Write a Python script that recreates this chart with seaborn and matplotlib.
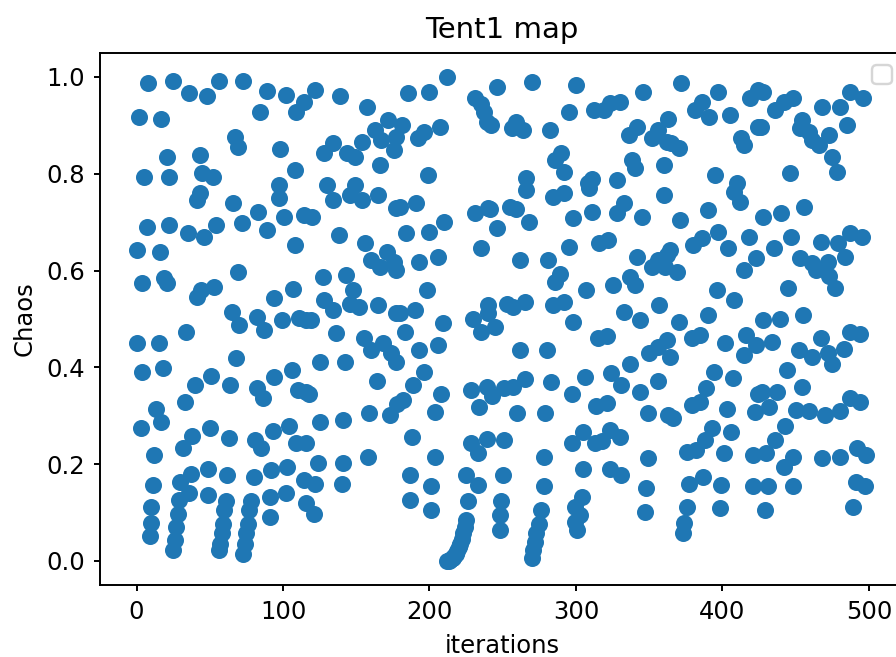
import matplotlib
matplotlib.use("Agg")
import matplotlib.pyplot as plt
import seaborn as sns
import pandas as pd

title = "Tent1 map"
x_label = "iterations"
y_label = "Chaos"

# (iteration, value) pairs
points = [
 (8,0.987),(25,0.992),(36,0.966),(48,0.961),(2,0.918),(17,0.914),(21,0.835),(43,0.839),(5,0.794),(22,0.794),
 (45,0.801),(52,0.794),(43,0.760),(41,0.746),(7,0.691),(22,0.694),(35,0.677),(46,0.670),(54,0.694),(0,0.643),
 (16,0.639),(19,0.584),(21,0.574),(4,0.574),(41,0.546),(44,0.560),(53,0.567),(34,0.474),(0,0.450),(15,0.450),
 (4,0.391),(18,0.398),(33,0.329),(40,0.363),(51,0.383),(13,0.315),(17,0.288),(3,0.274),(32,0.233),(38,0.258),
 (50,0.274),(12,0.219),(11,0.157),(30,0.163),(37,0.180),(49,0.190),(10,0.112),(10,0.078),(9,0.052),(29,0.126),
 (36,0.140),(49,0.136),(28,0.098),(27,0.071),(26,0.044),(25,0.023),
 (56,0.992),(73,0.992),(89,0.972),(102,0.963),(84,0.928),(109,0.928),(114,0.948),(67,0.877),(69,0.856),(98,0.852),
 (108,0.808),(97,0.777),(97,0.749),(66,0.739),(83,0.722),(101,0.711),(114,0.714),(72,0.698),(89,0.684),(108,0.653),
 (69,0.598),(107,0.563),(94,0.543),(65,0.515),(70,0.488),(82,0.505),(87,0.477),(99,0.498),(111,0.502),(116,0.498),
 (68,0.419),(64,0.364),(82,0.357),(86,0.336),(94,0.380),(106,0.394),(110,0.353),(116,0.350),(63,0.254),(81,0.250),
 (85,0.233),(93,0.268),(104,0.278),(109,0.243),(116,0.243),(62,0.178),(80,0.174),(92,0.188),(103,0.195),(114,0.167),
 (61,0.123),(78,0.123),(91,0.133),(102,0.140),(116,0.119),(60,0.105),(59,0.077),(58,0.057),(57,0.036),(56,0.022),
 (77,0.105),(76,0.077),(75,0.057),(74,0.036),(73,0.015),(91,0.091),
 (122,0.973),(139,0.960),(157,0.939),(172,0.911),(163,0.890),(167,0.870),(177,0.877),(176,0.849),(166,0.818),(128,0.842),
 (134,0.863),(144,0.842),(154,0.866),(149,0.835),(130,0.777),(134,0.746),(149,0.777),(154,0.746),(146,0.756),(165,0.756),
 (177,0.729),(120,0.711),(138,0.673),(156,0.656),(160,0.622),(166,0.608),(171,0.639),(176,0.618),(177,0.601),(127,0.587),
 (143,0.591),(128,0.539),(134,0.519),(148,0.560),(152,0.525),(146,0.532),(165,0.529),(177,0.512),(119,0.498),(136,0.471),
 (155,0.460),(160,0.436),(168,0.450),(174,0.429),(177,0.412),(125,0.412),(142,0.412),(164,0.371),(118,0.346),(125,0.288),
 (141,0.292),(159,0.305),(173,0.302),(178,0.325),(124,0.202),(141,0.202),(158,0.215),(122,0.160),(140,0.160),(121,0.098),
 (212,1.000),(185,0.966),(200,0.970),(231,0.956),(235,0.945),(237,0.928),(239,0.908),(242,0.901),(181,0.901),(192,0.873),
 (196,0.887),(207,0.897),(199,0.798),(180,0.732),(191,0.739),(184,0.677),(200,0.680),(210,0.701),(231,0.718),(240,0.729),
 (235,0.646),(193,0.618),(206,0.629),(198,0.560),(180,0.512),(190,0.519),(209,0.491),(183,0.474),(230,0.501),(240,0.512),
 (235,0.474),(193,0.435),(206,0.446),(196,0.391),(189,0.364),(182,0.332),(204,0.308),(208,0.346),(228,0.353),(234,0.319),
 (239,0.360),(188,0.257),(204,0.215),(228,0.243),(233,0.223),(239,0.253),(187,0.178),(201,0.154),(225,0.178),(233,0.157),
 (187,0.126),(201,0.105),(226,0.123),(225,0.085),(224,0.070),(223,0.057),(222,0.046),(221,0.036),(220,0.028),(219,0.021),
 (218,0.015),(217,0.010),(216,0.007),(215,0.004),(214,0.002),(213,0.001),(212,0.000),
 (246,0.980),(270,0.990),(300,0.983),(256,0.894),(259,0.907),(264,0.891),(282,0.891),(295,0.928),(286,0.829),(290,0.842),
 (292,0.804),(266,0.791),(266,0.767),(284,0.753),(292,0.760),(241,0.728),(255,0.732),(259,0.728),(246,0.687),(268,0.701),
 (298,0.708),(262,0.622),(281,0.622),(295,0.649),(289,0.594),(286,0.577),(240,0.529),(245,0.484),(253,0.532),(257,0.525),
 (265,0.536),(284,0.529),(292,0.536),(298,0.494),(262,0.436),(280,0.436),(243,0.340),(251,0.357),(257,0.360),(265,0.377),
 (283,0.370),(297,0.346),(260,0.305),(279,0.305),(251,0.250),(278,0.215),(297,0.243),(250,0.178),(278,0.154),(249,0.123),
 (248,0.095),(248,0.064),(276,0.105),(275,0.077),(273,0.057),(272,0.040),(271,0.023),(270,0.006),(299,0.112),(299,0.080),
 (346,0.970),(312,0.932),(319,0.932),(323,0.946),(330,0.949),(336,0.880),(342,0.897),(352,0.873),(356,0.890),(362,0.866),
 (363,0.914),(360,0.818),(338,0.829),(340,0.811),(308,0.780),(311,0.790),(309,0.770),(328,0.787),(360,0.756),(311,0.722),
 (328,0.718),(333,0.739),(345,0.711),(316,0.656),(322,0.663),(342,0.629),(352,0.608),(356,0.622),(362,0.632),(361,0.608),
 (337,0.587),(340,0.570),(307,0.560),(325,0.570),(357,0.529),(333,0.515),(344,0.498),(315,0.460),(321,0.464),(350,0.429),
 (356,0.443),(362,0.457),(364,0.422),(337,0.408),(306,0.381),(324,0.388),(331,0.364),(344,0.350),(356,0.371),(314,0.320),
 (321,0.326),(349,0.305),(363,0.302),(305,0.267),(323,0.271),(330,0.257),(313,0.243),(318,0.247),(305,0.191),(323,0.191),
 (331,0.178),(349,0.212),(304,0.133),(348,0.150),(303,0.095),(301,0.064),(347,0.102),
 (372,0.987),(397,0.970),(419,0.956),(424,0.973),(381,0.932),(386,0.949),(391,0.918),(405,0.922),(365,0.863),(370,0.853),
 (413,0.873),(415,0.860),(424,0.897),(395,0.798),(410,0.780),(412,0.742),(408,0.763),(371,0.705),(390,0.725),(397,0.680),
 (380,0.653),(386,0.667),(404,0.646),(418,0.670),(364,0.643),(369,0.598),(415,0.601),(423,0.625),(396,0.560),(408,0.539),
 (390,0.508),(370,0.494),(379,0.460),(385,0.467),(402,0.450),(416,0.467),(415,0.426),(423,0.447),(394,0.391),(407,0.378),
 (389,0.357),(379,0.322),(385,0.329),(403,0.315),(366,0.295),(422,0.308),(424,0.346),(393,0.274),(388,0.250),(406,0.267),
 (376,0.226),(382,0.230),(401,0.223),(421,0.219),(377,0.160),(387,0.174),(399,0.157),(421,0.154),(376,0.112),(374,0.078),
 (373,0.057),(398,0.109),
 (428,0.970),(436,0.932),(442,0.949),(448,0.956),(426,0.897),(468,0.939),(480,0.939),(487,0.970),(496,0.956),(454,0.911),
 (453,0.894),(459,0.887),(461,0.870),(466,0.860),(473,0.880),(485,0.901),(475,0.835),(478,0.804),(446,0.801),(428,0.711),
 (440,0.718),(456,0.732),(435,0.646),(447,0.670),(467,0.660),(479,0.656),(487,0.677),(495,0.670),(484,0.629),(453,0.625),
 (461,0.615),(464,0.601),(472,0.618),(473,0.588),(477,0.564),(445,0.564),(428,0.498),(439,0.501),(455,0.508),(434,0.453),
 (452,0.436),(461,0.422),(467,0.460),(472,0.429),(475,0.408),(483,0.439),(487,0.474),(494,0.470),(444,0.394),(427,0.350),
 (437,0.350),(432,0.319),(454,0.360),(450,0.312),(459,0.309),(470,0.302),(480,0.309),(487,0.336),(494,0.329),(443,0.278),
 (436,0.250),(430,0.223),(442,0.195),(448,0.215),(468,0.212),(480,0.215),(492,0.233),(498,0.219),(431,0.154),(448,0.154),
 (491,0.164),(497,0.154),(429,0.105),(489,0.112),
]
iterations = [p[0] for p in points]
chaos = [p[1] for p in points]

df = pd.DataFrame({"iterations": iterations, "Chaos": chaos})

DPI = 175
fig = plt.figure(figsize=(896 / DPI, 657 / DPI), dpi=DPI)
ax = fig.add_axes([100 / 896, 1 - 585.2 / 657, 804 / 896, (585.2 - 52.8) / 657])
sns.scatterplot(data=df, x="iterations", y="Chaos", ax=ax, s=36,
                color="#1f77b4", edgecolor="#1f77b4", linewidth=1, alpha=1)
ax.set_xlim(-24.95, 523.95)
ax.set_ylim(-0.05, 1.05)
ax.tick_params(length=2.6)
ax.set_title(title, fontsize=12)
ax.set_xlabel(x_label, fontsize=10)
ax.set_ylabel(y_label, fontsize=10)
ax.legend()
fig.savefig("out.png", dpi=DPI)
